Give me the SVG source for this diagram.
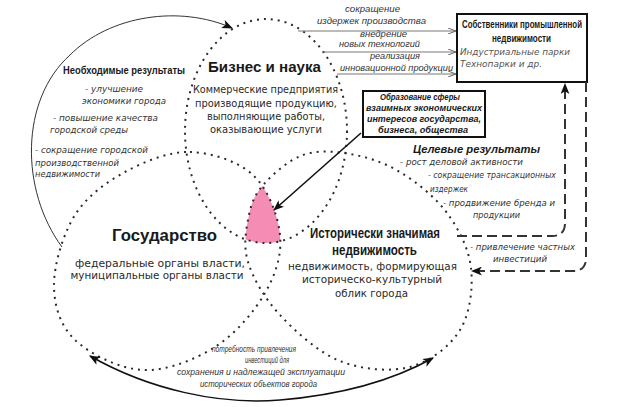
<svg xmlns="http://www.w3.org/2000/svg" width="624" height="407" viewBox="0 0 624 407">
<style>
.dot{fill:none;stroke:#2a2a2a;stroke-width:2;stroke-dasharray:2 5}
.dash{fill:none;stroke:#333;stroke-width:2;stroke-dasharray:10 5}
.gl{fill:none;stroke:#777;stroke-width:1}
.box{fill:#fff;stroke:#111;stroke-width:2}
.hd{font-family:"Liberation Sans",Arial,sans-serif;font-weight:bold;fill:#1a1a1a}
.rg{font-family:"DejaVu Sans",sans-serif;font-size:10.5px;fill:#2a2a2a}
.it{font-family:"DejaVu Sans",sans-serif;font-style:italic;font-size:8.5px;fill:#333}
.itg{font-family:"DejaVu Sans",sans-serif;font-style:italic;font-size:9px;fill:#555}
.bi{font-family:"Liberation Sans",Arial,sans-serif;font-style:italic;font-weight:bold;fill:#1a1a1a}
.nr{font-family:"Liberation Sans",Arial,sans-serif;font-style:italic;font-size:9px;fill:#333}
.m{text-anchor:middle}
</style>
<defs>
<marker id="ah" viewBox="0 0 10 8" refX="9" refY="4" markerWidth="11" markerHeight="9" markerUnits="userSpaceOnUse" orient="auto-start-reverse"><path d="M0,0 L10,4 L0,8 L2.5,4 z" fill="#111"/></marker>
<marker id="ag" viewBox="0 0 8 6" refX="8" refY="3" markerWidth="8" markerHeight="6" markerUnits="userSpaceOnUse" orient="auto"><path d="M0,0 L8,3 L0,6" fill="none" stroke="#666" stroke-width="1"/></marker>
<clipPath id="clipState"><path d="M190,152 C211.3,152.5 238,161.2 253,175 C268,188.8 278,215.3 280,235 C282,254.7 275.8,274.3 265,293 C254.2,311.7 235.3,334.2 215,347 C194.7,359.8 166.3,371.2 143,370 C119.7,368.8 89.8,354.2 75,340 C60.2,325.8 54,305.8 54,285 C54,264.2 63.2,233.8 75,215 C86.8,196.2 105.8,182.5 125,172 C144.2,161.5 168.7,151.5 190,152 Z"/></clipPath>
<clipPath id="clipHist"><path d="M264,184 C273,174 288.7,160 303,155 C317.3,150 333.8,151.2 350,154 C366.2,156.8 383.8,162.2 400,172 C416.2,181.8 435.2,197 447,213 C458.8,229 468.8,248.5 471,268 C473.2,287.5 470.2,313.5 460,330 C449.8,346.5 430,361.8 410,367 C390,372.2 361.7,369.7 340,361 C318.3,352.3 295.3,331.5 280,315 C264.7,298.5 253.2,278.7 248,262 C242.8,245.3 246.3,228 249,215 C251.7,202 255,194 264,184 Z"/></clipPath>
</defs>
<rect width="624" height="407" fill="#fff"/>

<g id="intersection">
<g clip-path="url(#clipState)"><ellipse cx="266" cy="131" rx="81" ry="112" fill="#f48cb4" clip-path="url(#clipHist)"/></g>
</g>

<g id="business">
<ellipse class="dot" cx="266" cy="131" rx="81" ry="112"/>
<text class="hd" x="208" y="72" font-size="14" textLength="113" lengthAdjust="spacingAndGlyphs">Бизнес и наука</text>
<text class="rg m" x="265.5" y="93" textLength="145" lengthAdjust="spacingAndGlyphs">Коммерческие предприятия</text>
<text class="rg m" x="266" y="107" textLength="142" lengthAdjust="spacingAndGlyphs">производящие продукцию,</text>
<text class="rg m" x="266" y="120" textLength="118" lengthAdjust="spacingAndGlyphs">выполняющие работы,</text>
<text class="rg m" x="266" y="133" textLength="112" lengthAdjust="spacingAndGlyphs">оказывающие услуги</text>
</g>

<g id="state">
<path class="dot" d="M190,152 C211.3,152.5 238,161.2 253,175 C268,188.8 278,215.3 280,235 C282,254.7 275.8,274.3 265,293 C254.2,311.7 235.3,334.2 215,347 C194.7,359.8 166.3,371.2 143,370 C119.7,368.8 89.8,354.2 75,340 C60.2,325.8 54,305.8 54,285 C54,264.2 63.2,233.8 75,215 C86.8,196.2 105.8,182.5 125,172 C144.2,161.5 168.7,151.5 190,152 Z"/>
<text class="hd" x="112" y="241" font-size="16.5" textLength="105" lengthAdjust="spacingAndGlyphs">Государство</text>
<text class="rg m" x="160" y="267" font-size="11" textLength="170" lengthAdjust="spacingAndGlyphs">федеральные органы власти,</text>
<text class="rg m" x="157" y="279" font-size="11" textLength="173" lengthAdjust="spacingAndGlyphs">муниципальные органы власти</text>
</g>

<g id="historic">
<path class="dot" d="M264,184 C273,174 288.7,160 303,155 C317.3,150 333.8,151.2 350,154 C366.2,156.8 383.8,162.2 400,172 C416.2,181.8 435.2,197 447,213 C458.8,229 468.8,248.5 471,268 C473.2,287.5 470.2,313.5 460,330 C449.8,346.5 430,361.8 410,367 C390,372.2 361.7,369.7 340,361 C318.3,352.3 295.3,331.5 280,315 C264.7,298.5 253.2,278.7 248,262 C242.8,245.3 246.3,228 249,215 C251.7,202 255,194 264,184 Z"/>
<text class="hd" x="310" y="238" font-size="14" textLength="130" lengthAdjust="spacingAndGlyphs">Исторически значимая</text>
<text class="hd" x="332" y="255" font-size="14" textLength="85" lengthAdjust="spacingAndGlyphs">недвижимость</text>
<text class="rg m" x="372.5" y="270" font-size="11" textLength="169" lengthAdjust="spacingAndGlyphs">недвижимость, формирующая</text>
<text class="rg m" x="372" y="283" font-size="11" textLength="140" lengthAdjust="spacingAndGlyphs">историческо-культурный</text>
<text class="rg m" x="371.5" y="297" font-size="11" textLength="73" lengthAdjust="spacingAndGlyphs">облик города</text>
</g>

<g id="interest-box">
<rect class="box" x="363" y="91" width="122" height="46"/>
<text class="bi m" x="420" y="100" font-size="9" textLength="80" lengthAdjust="spacingAndGlyphs">Образование сферы</text>
<text class="bi m" x="424" y="111" font-size="9" textLength="116" lengthAdjust="spacingAndGlyphs">взаимных экономических</text>
<text class="bi m" x="424" y="122" font-size="9" textLength="114" lengthAdjust="spacingAndGlyphs">интересов государства,</text>
<text class="bi m" x="423" y="133" font-size="9" textLength="90" lengthAdjust="spacingAndGlyphs">бизнеса, общества</text>
</g>

<g id="owners-box">
<rect class="box" x="457" y="14" width="130" height="68"/>
<text class="hd m" x="522" y="28" font-size="10.5" textLength="120" lengthAdjust="spacingAndGlyphs">Собственники промышленной</text>
<text class="hd m" x="521.5" y="42" font-size="10.5" textLength="59" lengthAdjust="spacingAndGlyphs">недвижимости</text>
<text class="itg" x="460" y="55" textLength="110" lengthAdjust="spacingAndGlyphs">Индустриальные парки</text>
<text class="itg" x="460" y="67" textLength="82" lengthAdjust="spacingAndGlyphs">Технопарки и др.</text>
</g>

<g id="necessary-results">
<text class="hd" x="63" y="74" font-size="11" textLength="122" lengthAdjust="spacingAndGlyphs">Необходимые результаты</text>
<text class="it" x="85" y="92" textLength="58" lengthAdjust="spacingAndGlyphs">- улучшение</text>
<text class="it" x="82" y="104" textLength="84" lengthAdjust="spacingAndGlyphs">экономики города</text>
<text class="it" x="53" y="121" textLength="105" lengthAdjust="spacingAndGlyphs">- повышение качества</text>
<text class="it" x="50" y="133" textLength="78" lengthAdjust="spacingAndGlyphs">городской среды</text>
<text class="it" x="35" y="153" textLength="113" lengthAdjust="spacingAndGlyphs">- сокращение городской</text>
<text class="it" x="35" y="166" textLength="84" lengthAdjust="spacingAndGlyphs">производственной</text>
<text class="it" x="35" y="177" textLength="65" lengthAdjust="spacingAndGlyphs">недвижимости</text>
</g>

<g id="target-results">
<text class="bi" x="413" y="153" font-size="11" textLength="127" lengthAdjust="spacingAndGlyphs">Целевые результаты</text>
<text class="it" x="400" y="165" textLength="123" lengthAdjust="spacingAndGlyphs">- рост деловой активности</text>
<text class="it" x="428" y="178" textLength="128" lengthAdjust="spacingAndGlyphs">- сокращение трансакционных</text>
<text class="it" x="430" y="192" textLength="38" lengthAdjust="spacingAndGlyphs">издержек</text>
<text class="it" x="443" y="206" textLength="112" lengthAdjust="spacingAndGlyphs">- продвижение бренда и</text>
<text class="it" x="473" y="218" textLength="47" lengthAdjust="spacingAndGlyphs">продукции</text>
</g>

<g id="connectors">
<path d="M62,247 C20,190 20,100 70,55 C110,15 180,5 232,28" fill="none" stroke="#333" stroke-width="1" marker-end="url(#ah)"/>
<path d="M90,356 C150,390 220,405 280,400 C340,395 390,382 433,358" fill="none" stroke="#111" stroke-width="1.5" marker-start="url(#ah)" marker-end="url(#ah)"/>
<path d="M361,133 L274,210" fill="none" stroke="#111" stroke-width="1.6" marker-end="url(#ah)"/>
<path class="gl" d="M298,31 L456,31" marker-end="url(#ag)"/>
<path class="gl" d="M322,52 L456,52" marker-end="url(#ag)"/>
<path class="gl" d="M337,74 L456,74" marker-end="url(#ag)"/>
<path class="dash" d="M457,236 L552,236 Q565,236 565,223 L565,84" marker-end="url(#ah)"/>
<path class="dash" d="M586,82 L586,258 Q586,271 573,271 L472,271" marker-end="url(#ah)"/>
<text class="nr m" x="372.5" y="12" textLength="55" lengthAdjust="spacingAndGlyphs">сокращение</text>
<text class="nr m" x="371.5" y="24" textLength="109" lengthAdjust="spacingAndGlyphs">издержек производства</text>
<text class="nr m" x="383.5" y="37" textLength="47" lengthAdjust="spacingAndGlyphs">внедрение</text>
<text class="nr m" x="379.5" y="47" textLength="81" lengthAdjust="spacingAndGlyphs">новых технологий</text>
<text class="nr m" x="395" y="59" textLength="50" lengthAdjust="spacingAndGlyphs">реализация</text>
<text class="nr m" x="396.5" y="71" textLength="113" lengthAdjust="spacingAndGlyphs">инновационной продукции</text>
<text class="it" x="470" y="250" textLength="105" lengthAdjust="spacingAndGlyphs">- привлечение частных</text>
<text class="it" x="493" y="262" textLength="54" lengthAdjust="spacingAndGlyphs">инвестиций</text>
<text class="nr m" x="254" y="352" textLength="84" lengthAdjust="spacingAndGlyphs">потребность привлечения</text>
<text class="nr m" x="267" y="363" textLength="44" lengthAdjust="spacingAndGlyphs">инвестиций для</text>
<text class="nr m" x="261" y="375" textLength="168" lengthAdjust="spacingAndGlyphs">сохранения и надлежащей эксплуатации</text>
<text class="nr m" x="258.5" y="387" textLength="117" lengthAdjust="spacingAndGlyphs">исторических объектов города</text>
</g>
</svg>
